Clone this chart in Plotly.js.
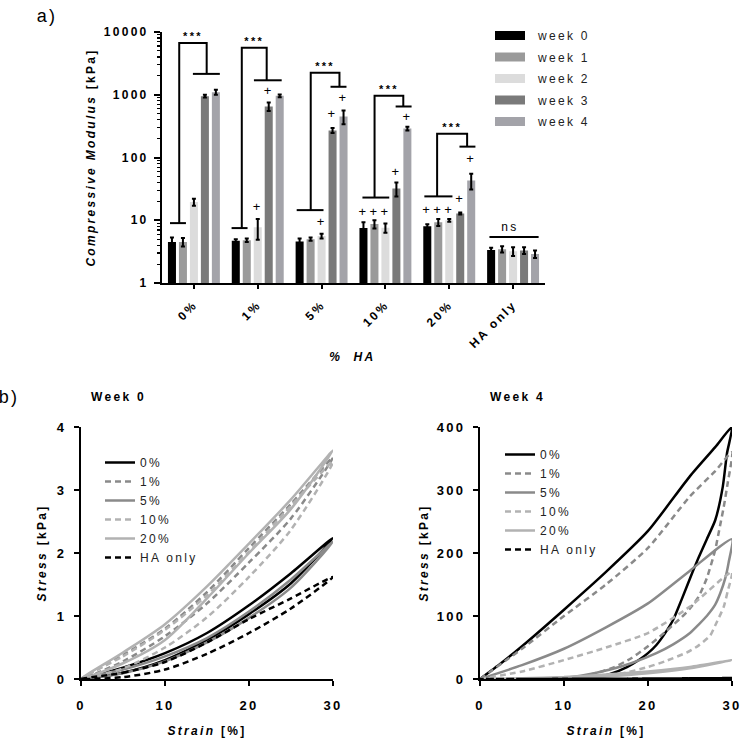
<!DOCTYPE html>
<html><head><meta charset="utf-8">
<script src="https://cdn.plot.ly/plotly-3.0.1.min.js"></script>
<style>
html,body{margin:0;padding:0;background:#fff;}
#chart{width:741px;height:738px;}
.main-svg text{letter-spacing:2.3px;}
</style></head><body><div id="chart"></div>
<script>
// ---------- Panel a) data ----------
const categories = ['0%','1%','5%','10%','20%','HA only'];
const weekNames = ['week 0','week 1','week 2','week 3','week 4'];
const week0 = [4.5, 4.7, 4.6, 7.5, 8.0, 3.35];
const week1 = [4.5, 4.8, 5.0, 8.7, 9.3, 3.45];
const week2 = [19.5, 7.7, 5.6, 7.6, 10.0, 3.2];
const week3 = [950, 650, 270, 32, 12.8, 3.3];
const week4 = [1100, 960, 450, 290, 43, 2.9];
const err0 = [0.8, 0.3, 0.5, 1.8, 0.6, 0.3];
const err1 = [0.7, 0.3, 0.3, 1.3, 1.2, 0.4];
const err2 = [2.5, 2.8, 0.5, 1.3, 0.5, 0.5];
const err3 = [50, 100, 25, 8, 0.5, 0.4];
const err4 = [100, 50, 110, 20, 12, 0.4];
const yTickVals = [1, 10, 100, 1000, 10000];
const yTickText = ['1', '10', '100', '1000', '10000'];

// significance brackets (group index, offsets within group, heights)
const sigGroup = [0, 1, 2, 3, 4];
const sigLeftFrom = [-0.375, -0.41, -0.39, -0.36, -0.39];
const sigLeftTo = [-0.125, -0.16, 0.03, 0.06, 0.05];
const sigLeftY = [9, 7.5, 14.5, 23, 24];
const sigLeftStem = [-0.23, -0.25, -0.17, -0.17, -0.19];
const sigRightFrom = [-0.016, -0.06, 0.14, 0.16, 0.16];
const sigRightTo = [0.406, 0.375, 0.39, 0.41, 0.41];
const sigRightY = [2150, 1700, 1340, 650, 149];
const sigRightStem = [0.2, 0.14, 0.28, 0.28, 0.28];
const sigTopY = [6700, 5600, 2240, 960, 240];
const nsGroup = 5, nsFrom = -0.37, nsTo = 0.4, nsY = 5.4, nsLabelY = 7.4;

// "+" markers
const plusGroup = [1, 1, 2, 2, 2, 3, 3, 3, 3, 3, 4, 4, 4, 4, 4];
const plusWeek  = [2, 3, 2, 3, 4, 0, 1, 2, 3, 4, 0, 1, 2, 3, 4];
const plusY = [16, 1120, 9, 480, 870, 13.4, 13.4, 13.4, 58, 430, 14, 14, 14, 21, 93];

// ---------- Panel b) data ----------
const seriesNames = ['0%', '1%', '5%', '10%', '20%', 'HA only'];
// Week 0 loops (loading then unloading)
const w0Strain = [0, 5, 10, 15, 20, 25, 30, 25, 20, 15, 10, 5, 0];
const w0_0  = [0, 0.18, 0.41, 0.73, 1.17, 1.68, 2.24, 1.52, 1.03, 0.62, 0.30, 0.10, 0];
const w0_1  = [0, 0.38, 0.80, 1.38, 2.08, 2.78, 3.52, 2.55, 1.85, 1.20, 0.68, 0.28, 0];
const w0_5  = [0, 0.15, 0.36, 0.65, 1.07, 1.58, 2.18, 1.45, 0.97, 0.58, 0.28, 0.09, 0];
const w0_10 = [0, 0.36, 0.78, 1.33, 2.02, 2.75, 3.45, 2.37, 1.62, 0.98, 0.50, 0.17, 0];
const w0_20 = [0, 0.42, 0.87, 1.47, 2.15, 2.85, 3.63, 2.70, 2.00, 1.28, 0.62, 0.25, 0];
const w0_HA = [0, 0.10, 0.27, 0.58, 0.95, 1.28, 1.62, 1.12, 0.73, 0.40, 0.15, 0.03, 0];

// Week 4 loops
const w4_0_strain = [0, 2.5, 5, 10, 15, 20, 25, 28, 30, 29.4, 28.9, 28, 27, 26, 25.4, 24, 23, 22, 21, 20, 19, 17.5, 15.5, 14, 12.7];
const w4_0_stress = [0, 25, 52, 110, 170, 235, 322, 368, 400, 358, 305, 252, 222, 192, 173, 126, 94, 72, 54, 41, 31, 19, 8, 3, 0];
const w4_1_strain = [0, 5, 10, 15, 20, 25, 28, 30, 29.5, 29, 28.6, 28, 27, 26, 25, 24, 23, 22, 20, 18, 16, 14, 12, 10];
const w4_1_stress = [0, 48, 100, 150, 208, 290, 330, 360, 312, 272, 245, 205, 160, 130, 112, 98, 86, 74, 52, 33, 19, 10, 4, 0];
const w4_5_strain = [0, 5, 10, 15, 20, 25, 30, 29.6, 29.2, 28.6, 28, 27, 26, 25, 23, 21, 18, 15.5, 12, 9];
const w4_5_stress = [0, 22, 48, 82, 120, 172, 222, 185, 160, 136, 118, 100, 86, 73, 55, 41, 25, 15, 5, 0];
const w4_10_strain = [0, 5, 10, 15, 20, 25, 30, 29.5, 29, 28, 27.4, 26, 24.6, 22, 20, 17, 14, 11];
const w4_10_stress = [0, 12, 30, 50, 73, 115, 170, 140, 114, 85, 69, 53, 42, 28, 19, 9, 3, 0];
const w4_20_strain = [0, 5, 10, 15, 20, 25, 30, 25, 20, 15, 10, 5, 0];
const w4_20_stress = [0, 1, 3, 7, 12, 19, 30, 17, 9, 4, 1.2, 0.2, 0];
const w4_HA_strain = [0, 5, 10, 15, 20, 25, 30, 25, 20, 15, 10, 5, 0];
const w4_HA_stress = [0, 0.1, 0.25, 0.45, 0.75, 1.1, 1.5, 1.0, 0.65, 0.38, 0.18, 0.05, 0];

// ---------- styling ----------
const FONT = 'Arial, "Liberation Sans", sans-serif';
const W = 741, H = 738;
const fx = p => p / W;
const fy = p => 1 - p / H;
const barColors = ['#000000', '#9a9a9a', '#dcdcdc', '#7a7a7a', '#a3a3a9'];
const lineColors = ['#000000', '#8a8a8a', '#8a8a8a', '#b2b2b2', '#b2b2b2', '#000000'];
const lineDash = ['solid', '6px,4px', 'solid', '6px,4px', 'solid', '6px,4px'];
const BARGAP = 0.14, BARGROUPGAP = 0.27;
const pitch = (1 - BARGAP) / weekNames.length;

const weekVals = [week0, week1, week2, week3, week4];
const weekErr = [err0, err1, err2, err3, err4];
const catIdx = categories.map((c, i) => i);

const traces = [];
weekVals.forEach((vals, i) => {
  traces.push({
    type: 'bar', x: catIdx, y: vals, name: weekNames[i], showlegend: false,
    marker: {color: barColors[i], line: {width: 0}},
    error_y: {type: 'data', array: weekErr[i], visible: true, color: '#000', thickness: 2, width: 2},
    xaxis: 'x', yaxis: 'y', hoverinfo: 'skip'
  });
});
weekNames.forEach((n, i) => {
  traces.push({
    type: 'scatter', mode: 'lines', x: [null], y: [null], name: n,
    line: {color: barColors[i], width: 9}, legend: 'legend', legendgroup: 'wk' + i,
    xaxis: 'x', yaxis: 'y'
  });
});

// brackets
const brX = [], brY = [];
for (let k = 0; k < sigGroup.length; k++) {
  const g = sigGroup[k];
  brX.push(g + sigLeftFrom[k], g + sigLeftTo[k], null,
           g + sigLeftStem[k], g + sigLeftStem[k], g + sigRightStem[k], g + sigRightStem[k], null,
           g + sigRightFrom[k], g + sigRightTo[k], null);
  brY.push(sigLeftY[k], sigLeftY[k], null,
           sigLeftY[k], sigTopY[k], sigTopY[k], sigRightY[k], null,
           sigRightY[k], sigRightY[k], null);
}
brX.push(nsGroup + nsFrom, nsGroup + nsTo);
brY.push(nsY, nsY);
traces.push({type: 'scatter', mode: 'lines', x: brX, y: brY, line: {color: '#000', width: 2},
  showlegend: false, hoverinfo: 'skip', xaxis: 'x', yaxis: 'y'});

traces.push({type: 'scatter', mode: 'text',
  x: sigGroup.map((g, k) => g + (sigLeftStem[k] + sigRightStem[k]) / 2),
  y: sigTopY, text: sigGroup.map(() => '***'), textposition: 'top center',
  textfont: {family: FONT, size: 11, color: '#000', weight: 700},
  showlegend: false, hoverinfo: 'skip', cliponaxis: false, xaxis: 'x', yaxis: 'y'});

traces.push({type: 'scatter', mode: 'text',
  x: plusGroup.map((g, k) => g + (plusWeek[k] - 2) * pitch),
  y: plusY, text: plusGroup.map(() => '+'), textposition: 'middle center',
  textfont: {family: FONT, size: 13, color: '#000'},
  showlegend: false, hoverinfo: 'skip', cliponaxis: false, xaxis: 'x', yaxis: 'y'});

traces.push({type: 'scatter', mode: 'text', x: [nsGroup - 0.05], y: [nsLabelY], text: ['ns'],
  textposition: 'middle center', textfont: {family: FONT, size: 12, color: '#000'},
  showlegend: false, hoverinfo: 'skip', cliponaxis: false, xaxis: 'x', yaxis: 'y'});

// stress-strain curves
const w0Data = [w0_0, w0_1, w0_5, w0_10, w0_20, w0_HA];
w0Data.forEach((ys, i) => {
  traces.push({type: 'scatter', mode: 'lines', x: w0Strain, y: ys, name: seriesNames[i],
    line: {color: lineColors[i], width: 2.5, dash: lineDash[i], shape: 'spline', smoothing: 0.8},
    legend: 'legend2', xaxis: 'x2', yaxis: 'y2', hoverinfo: 'skip'});
});
const w4X = [w4_0_strain, w4_1_strain, w4_5_strain, w4_10_strain, w4_20_strain, w4_HA_strain];
const w4Y = [w4_0_stress, w4_1_stress, w4_5_stress, w4_10_stress, w4_20_stress, w4_HA_stress];
w4X.forEach((xs, i) => {
  traces.push({type: 'scatter', mode: 'lines', x: xs, y: w4Y[i], name: seriesNames[i],
    line: {color: lineColors[i], width: 2.5, dash: lineDash[i], shape: 'spline', smoothing: 0.6},
    legend: 'legend3', xaxis: 'x3', yaxis: 'y3', hoverinfo: 'skip'});
});

const tickFont = {family: FONT, size: 12, color: '#000', weight: 700};
const titleFont = {family: FONT, size: 12, color: '#000', weight: 700};
const axBase = {showline: true, linewidth: 2, linecolor: '#000', ticks: 'outside', tickwidth: 2,
  tickcolor: '#000', showgrid: false, zeroline: false, automargin: false, fixedrange: true, tickfont: tickFont};
const legFont = {family: FONT, size: 12, color: '#222'};

const layout = {
  width: W, height: H, margin: {l: 0, r: 0, t: 0, b: 0, pad: 0},
  paper_bgcolor: '#fff', plot_bgcolor: 'rgba(0,0,0,0)',
  font: {family: FONT, color: '#000'},
  barmode: 'group', bargap: BARGAP, bargroupgap: BARGROUPGAP,
  xaxis: Object.assign({}, axBase, {domain: [fx(162), fx(545)], range: [-0.5, 5.5], anchor: 'y',
    tickmode: 'array', tickvals: catIdx, ticktext: categories, tickangle: -45, ticklen: 4, ticklabelstandoff: 4}),
  yaxis: Object.assign({}, axBase, {domain: [fy(283), fy(32)], type: 'log', range: [0, 4], anchor: 'x',
    tickmode: 'array', tickvals: yTickVals, ticktext: yTickText, ticklen: 6, ticklabelstandoff: 3,
    minor: {ticks: 'outside', ticklen: 3, tickwidth: 1.2, tickcolor: '#000', dtick: 'D1'},
    title: {text: '<i>Compressive Modulus</i> [kPa]', font: titleFont, standoff: 17}}),
  xaxis2: Object.assign({}, axBase, {domain: [fx(81), fx(333)], range: [0, 30], anchor: 'y2',
    tickvals: [0, 10, 20, 30], ticklen: 5, ticklabelstandoff: 8, tickfont: Object.assign({}, tickFont, {size: 13}),
    title: {text: '<i>Strain</i> [%]', font: titleFont, standoff: 15}}),
  yaxis2: Object.assign({}, axBase, {domain: [fy(679), fy(427)], range: [0, 4], anchor: 'x2',
    tickvals: [0, 1, 2, 3, 4], ticklen: 5, ticklabelstandoff: 5, tickfont: Object.assign({}, tickFont, {size: 13}),
    title: {text: '<i>Stress</i> [kPa]', font: titleFont, standoff: 10}}),
  xaxis3: Object.assign({}, axBase, {domain: [fx(480), fx(732)], range: [0, 30], anchor: 'y3',
    tickvals: [0, 10, 20, 30], ticklen: 5, ticklabelstandoff: 8, tickfont: Object.assign({}, tickFont, {size: 13}),
    title: {text: '<i>Strain</i> [%]', font: titleFont, standoff: 15}}),
  yaxis3: Object.assign({}, axBase, {domain: [fy(679), fy(427)], range: [0, 400], anchor: 'x3',
    tickvals: [0, 100, 200, 300, 400], ticklen: 5, ticklabelstandoff: 5, tickfont: Object.assign({}, tickFont, {size: 13}),
    title: {text: '<i>Stress</i> [kPa]', font: titleFont, standoff: 12}}),
  legend: {x: fx(490), y: fy(21), xanchor: 'left', yanchor: 'top', bgcolor: 'rgba(0,0,0,0)',
    font: legFont, tracegroupgap: 2.5, itemclick: false, itemdoubleclick: false},
  legend2: {x: fx(100), y: fy(448), xanchor: 'left', yanchor: 'top', bgcolor: 'rgba(0,0,0,0)',
    font: legFont, itemclick: false, itemdoubleclick: false},
  legend3: {x: fx(500), y: fy(440), xanchor: 'left', yanchor: 'top', bgcolor: 'rgba(0,0,0,0)',
    font: legFont, itemclick: false, itemdoubleclick: false},
  annotations: [
    {text: 'a)', x: fx(37), y: fy(16), xref: 'paper', yref: 'paper', xanchor: 'left', yanchor: 'middle',
      showarrow: false, font: {family: FONT, size: 18, color: '#000'}},
    {text: 'b)', x: fx(-1), y: fy(397), xref: 'paper', yref: 'paper', xanchor: 'left', yanchor: 'middle',
      showarrow: false, font: {family: FONT, size: 18, color: '#000'}},
    {text: 'Week 0', x: fx(118), y: fy(397), xref: 'paper', yref: 'paper', xanchor: 'center', yanchor: 'middle',
      showarrow: false, font: {family: FONT, size: 12, color: '#000', weight: 700}},
    {text: 'Week 4', x: fx(517), y: fy(397), xref: 'paper', yref: 'paper', xanchor: 'center', yanchor: 'middle',
      showarrow: false, font: {family: FONT, size: 12, color: '#000', weight: 700}},
    {text: '<i>%  HA</i>', x: fx(352), y: fy(357), xref: 'paper', yref: 'paper', xanchor: 'center', yanchor: 'middle',
      showarrow: false, font: {family: FONT, size: 12, color: '#000', weight: 700}}
  ],
  showlegend: true
};

function tidyLegends(gd) {
  // letter-spaced legend text is wider than Plotly measures; let it show in full,
  // and leave the wider gap between symbol and label seen in the original
  gd.querySelectorAll('.infolayer > g').forEach(lg => {
    if (!/^legend/.test(lg.getAttribute('class') || '')) return;
    lg.removeAttribute('clip-path');
    lg.querySelectorAll('[clip-path]').forEach(e => e.removeAttribute('clip-path'));
  });
  gd.querySelectorAll('text.legendtext').forEach(t => {
    t.setAttribute('transform', 'translate(8,0)');
  });
}

Plotly.newPlot('chart', traces, layout, {displayModeBar: false, staticPlot: true}).then(gd => {
  tidyLegends(gd);
  setTimeout(() => tidyLegends(gd), 50);
  setTimeout(() => tidyLegends(gd), 300);
});
</script></body></html>
